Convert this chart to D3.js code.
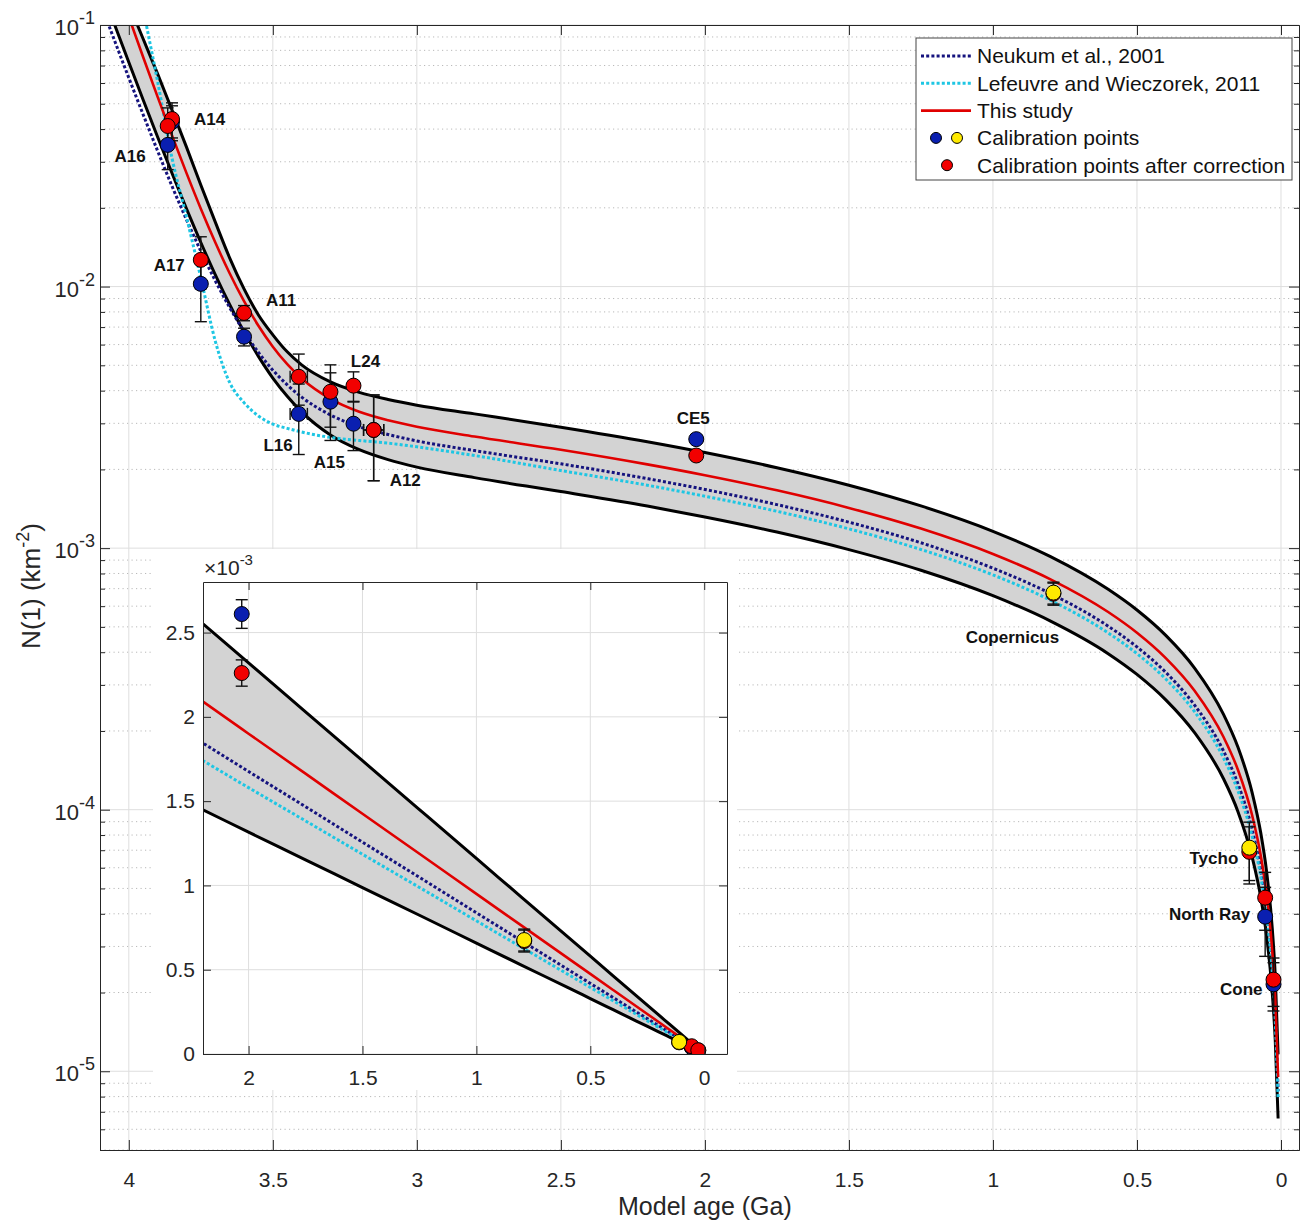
<!DOCTYPE html>
<html>
<head>
<meta charset="utf-8">
<script src="https://cdn.jsdelivr.net/npm/d3@7"></script>
<style>
  body { margin: 0; background: #fff; }
  svg { font-family: "Liberation Sans", Arial, sans-serif; }
</style>
</head>
<body>
<div class="canvas"></div>
<script>
// ---- values ----
// model curves, sampled at these ages (Ga)
const curveAges = [4.1, 4.05, 4.0, 3.95, 3.9, 3.85, 3.8, 3.75, 3.7, 3.65, 3.6, 3.55, 3.5, 3.45, 3.4, 3.3, 3.2, 3.1, 3.0, 2.8, 2.5, 2.2, 2.0, 1.75, 1.5, 1.25, 1.0, 0.8, 0.6, 0.5, 0.4, 0.3, 0.2, 0.15, 0.1, 0.07, 0.05, 0.03, 0.02, 0.01];
const neukum = [0.1223, 0.0875, 0.0628, 0.0454, 0.0330, 0.0242, 0.01805, 0.01366, 0.01054, 0.00832, 0.00674, 0.00560, 0.00479, 0.00421, 0.00378, 0.00323, 0.00291, 0.00272, 0.00257, 0.00236, 0.00210, 0.001844, 0.001676, 0.001467, 0.001257, 0.001048, 0.000838, 0.00067, 0.000503, 0.000419, 0.000335, 0.000251, 0.000168, 0.000126, 0.0000838, 0.0000587, 0.0000419, 0.0000251, 0.0000168, 0.0000084];
const lefeuvre = [0.82, 0.42, 0.221, 0.115, 0.0608, 0.031, 0.0185, 0.0108, 0.0062, 0.0043, 0.0036, 0.0032, 0.00298, 0.00287, 0.00278, 0.00265, 0.00258, 0.00252, 0.00244, 0.00226, 0.00198, 0.00174, 0.00158, 0.001383, 0.001185, 0.000988, 0.00079, 0.000632, 0.000474, 0.000395, 0.000316, 0.000237, 0.000158, 0.0001185, 0.000079, 0.0000553, 0.0000395, 0.0000237, 0.0000158, 0.0000079];
const thisStudy = [0.221, 0.154, 0.1074, 0.0753, 0.0531, 0.0378, 0.0272, 0.01984, 0.01477, 0.01124, 0.00879, 0.00708, 0.00589, 0.00505, 0.00445, 0.00372, 0.00332, 0.00308, 0.00291, 0.00267, 0.002377, 0.00209, 0.00190, 0.001663, 0.001425, 0.001188, 0.00095, 0.00076, 0.00057, 0.000475, 0.00038, 0.000285, 0.00019, 0.0001425, 0.000095, 0.0000665, 0.0000475, 0.0000285, 0.000019, 0.0000095];
const upperBound = [0.221, 0.162, 0.120, 0.0884, 0.0650, 0.0473, 0.0342, 0.02446, 0.01767, 0.01288, 0.0098, 0.00779, 0.00654, 0.00563, 0.00502, 0.00432, 0.00394, 0.0037, 0.00352, 0.00326, 0.0029, 0.002552, 0.00232, 0.00203, 0.00174, 0.00145, 0.00116, 0.000928, 0.000696, 0.00058, 0.000464, 0.000348, 0.000232, 0.000174, 0.000116, 0.0000812, 0.000058, 0.0000348, 0.0000232, 0.0000116];
const lowerBound = [0.1414, 0.1008, 0.0720, 0.0517, 0.0373, 0.0271, 0.01985, 0.01474, 0.01111, 0.00854, 0.00671, 0.00541, 0.00447, 0.00381, 0.00332, 0.00271, 0.00238, 0.00218, 0.00204, 0.00186, 0.001645, 0.001448, 0.001316, 0.001152, 0.000987, 0.000823, 0.000658, 0.000526, 0.000395, 0.000329, 0.000263, 0.000197, 0.0001316, 0.0000987, 0.0000658, 0.0000461, 0.0000329, 0.0000197, 0.0000132, 0.0000066];

// calibration sites
const sites = ['A14', 'A16', 'A17', 'A11', 'L16', 'A15', 'L24', 'A12', 'CE5', 'Copernicus', 'Tycho', 'North Ray', 'Cone'];
const siteAges = [3.85, 3.865, 3.75, 3.60, 3.41, 3.30, 3.22, 3.15, 2.03, 0.79, 0.11, 0.055, 0.026];
const siteAgeErr = [0, 0, 0, 0, 0.03, 0, 0, 0.035, 0, 0, 0, 0, 0];
const n1Before = [0.0426, 0.0348, 0.01024, 0.00643, 0.00326, 0.00363, 0.00299, 0.00283, 0.00261, 0.000676, 0.0000716, 0.000039, 0.0000215];
const n1BeforeErr = [0.0065, 0.0068, 0.0029, 0.0005, 0.00098, 0.00105, 0.00063, 0.00102, 0.000085, 0.000065, 0.000018, 0.0000115, 0.0000045];
const n1After = [0.0437, 0.0411, 0.01265, 0.00793, 0.00452, 0.00396, 0.00418, 0.00283, 0.00226, 0.00067, 0.000069, 0.0000461, 0.0000224];
const n1AfterErr = [0.0067, 0.0071, 0.00285, 0.00053, 0.001, 0.00106, 0.00054, 0.00102, 0.000078, 0.000065, 0.000017, 0.0000115, 0.0000047];
const yellowSites = ['Copernicus', 'Tycho'];

// tick labels
const xTicks = [4, 3.5, 3, 2.5, 2, 1.5, 1, 0.5, 0];
const yDecades = [1e-5, 1e-4, 1e-3, 1e-2, 1e-1];
const yDecadeLabels = ['-5', '-4', '-3', '-2', '-1'];
const insetXTicks = [2, 1.5, 1, 0.5, 0];
const insetYTicks = [0, 0.0005, 0.001, 0.0015, 0.002, 0.0025];
const insetYLabels = ['0', '0.5', '1', '1.5', '2', '2.5'];

const legendItems = ['Neukum et al., 2001', 'Lefeuvre and Wieczorek, 2011', 'This study', 'Calibration points', 'Calibration points after correction'];

// where each site name sits relative to its marker (px)
const labelPlacement = {
  'A14': [22, 0, 'start', 'after'], 'A16': [-22, 11, 'end', 'before'], 'A17': [-16, 5, 'end', 'after'],
  'A11': [22, -13, 'start', 'after'], 'L16': [-6, 31, 'end', 'before'], 'A15': [-1, 60, 'middle', 'before'],
  'L24': [12, -25, 'middle', 'after'], 'A12': [16, 50, 'start', 'after'], 'CE5': [-3, -21, 'middle', 'before'],
  'Copernicus': [-41, 44, 'middle', 'before'], 'Tycho': [-11, 10, 'end', 'before'],
  'North Ray': [-15, -3, 'end', 'before'], 'Cone': [-11, 5, 'end', 'before']
};

// ---- styles ----
const colNeukum = '#15137e';
const colLefeuvre = '#1ec6e3';
const colRed = '#e00000';
const colBlue = '#0a1fb0';
const colYellow = '#ffea00';
const colMarkerRed = '#f20000';
const colAxis = '#262626';

const width = 1300, height = 1222;
const margin = { top: 25, right: 1, bottom: 72, left: 100 };
const graphWidth = width - margin.left - margin.right;
const graphHeight = height - margin.top - margin.bottom;

const svg = d3.select('.canvas').append('svg')
  .attr('width', width)
  .attr('height', height);

svg.append('rect').attr('width', width).attr('height', height).attr('fill', '#fff');

const graph = svg.append('g')
  .attr('transform', `translate(${margin.left}, ${margin.top})`);

// scales
const x = d3.scaleLinear().domain([4.1, -0.0625]).range([0, graphWidth]);
const y = d3.scaleLog().domain([5e-6, 0.1]).range([graphHeight, 0]);

const curveRows = curveAges.map((a, i) => ({
  age: a, neukum: neukum[i], lefeuvre: lefeuvre[i], study: thisStudy[i], upper: upperBound[i], lower: lowerBound[i]
}));
const siteRows = sites.map((s, i) => ({
  name: s, age: siteAges[i], ageErr: siteAgeErr[i],
  before: n1Before[i], beforeErr: n1BeforeErr[i], after: n1After[i], afterErr: n1AfterErr[i],
  yellow: yellowSites.includes(s)
}));

// grid
const minorTicks = y.ticks().filter(v => !yDecades.some(d => Math.abs(d - v) / d < 1e-6));
graph.append('g').selectAll('line')
  .data(minorTicks).enter().append('line')
    .attr('x1', 0).attr('x2', graphWidth)
    .attr('y1', d => y(d)).attr('y2', d => y(d))
    .attr('stroke', '#b9b9b9').attr('stroke-width', 1).attr('stroke-dasharray', '1.2,3.3');
graph.append('g').selectAll('line')
  .data(yDecades).enter().append('line')
    .attr('x1', 0).attr('x2', graphWidth)
    .attr('y1', d => y(d)).attr('y2', d => y(d))
    .attr('stroke', '#dedede');
graph.append('g').selectAll('line')
  .data(xTicks).enter().append('line')
    .attr('x1', d => x(d)).attr('x2', d => x(d))
    .attr('y1', 0).attr('y2', graphHeight)
    .attr('stroke', '#dedede');

// clip
svg.append('clipPath').attr('id', 'mainClip')
  .append('rect').attr('width', graphWidth).attr('height', graphHeight);

const plot = graph.append('g').attr('clip-path', 'url(#mainClip)');

function drawCurves(g, xs, ys) {
  const band = d3.area()
    .x(d => xs(d.age)).y0(d => ys(d.lower)).y1(d => ys(d.upper))
    .curve(d3.curveMonotoneX);
  const lineOf = key => d3.line().x(d => xs(d.age)).y(d => ys(d[key])).curve(d3.curveMonotoneX);

  g.append('path').datum(curveRows).attr('d', band).attr('fill', '#d3d3d3');
  g.append('path').datum(curveRows).attr('d', lineOf('lower'))
    .attr('fill', 'none').attr('stroke', '#000').attr('stroke-width', 3);
  g.append('path').datum(curveRows).attr('d', lineOf('upper'))
    .attr('fill', 'none').attr('stroke', '#000').attr('stroke-width', 3);
  g.append('path').datum(curveRows).attr('d', lineOf('neukum'))
    .attr('fill', 'none').attr('stroke', colNeukum).attr('stroke-width', 3).attr('stroke-dasharray', '3,2.2');
  g.append('path').datum(curveRows).attr('d', lineOf('lefeuvre'))
    .attr('fill', 'none').attr('stroke', colLefeuvre).attr('stroke-width', 3).attr('stroke-dasharray', '3,2.2');
  g.append('path').datum(curveRows).attr('d', lineOf('study'))
    .attr('fill', 'none').attr('stroke', colRed).attr('stroke-width', 2.6);
}

function drawPoints(g, xs, ys, r) {
  const cap = 6;
  const bars = g.append('g').attr('stroke', '#111').attr('stroke-width', 1.4);
  const addBar = (d, val, err) => {
    const cx = xs(d.age);
    bars.append('line').attr('x1', cx).attr('x2', cx).attr('y1', ys(val - err)).attr('y2', ys(val + err));
    bars.append('line').attr('x1', cx - cap).attr('x2', cx + cap).attr('y1', ys(val - err)).attr('y2', ys(val - err));
    bars.append('line').attr('x1', cx - cap).attr('x2', cx + cap).attr('y1', ys(val + err)).attr('y2', ys(val + err));
    if (d.ageErr > 0) {
      const cy = ys(val);
      bars.append('line').attr('x1', xs(d.age + d.ageErr)).attr('x2', xs(d.age - d.ageErr)).attr('y1', cy).attr('y2', cy);
      [d.age + d.ageErr, d.age - d.ageErr].forEach(a => {
        bars.append('line').attr('x1', xs(a)).attr('x2', xs(a)).attr('y1', cy - cap).attr('y2', cy + cap);
      });
    }
  };
  siteRows.forEach(d => { addBar(d, d.before, d.beforeErr); addBar(d, d.after, d.afterErr); });

  // original points (blue), then corrected (red), then yellow ones on top
  g.append('g').selectAll('circle')
    .data(siteRows.filter(d => !d.yellow)).enter().append('circle')
      .attr('cx', d => xs(d.age)).attr('cy', d => ys(d.before)).attr('r', r)
      .attr('fill', colBlue).attr('stroke', '#000').attr('stroke-width', 1);
  g.append('g').selectAll('circle')
    .data(siteRows).enter().append('circle')
      .attr('cx', d => xs(d.age)).attr('cy', d => ys(d.after)).attr('r', r)
      .attr('fill', colMarkerRed).attr('stroke', '#000').attr('stroke-width', 1);
  g.append('g').selectAll('circle')
    .data(siteRows.filter(d => d.yellow)).enter().append('circle')
      .attr('cx', d => xs(d.age)).attr('cy', d => ys(d.before)).attr('r', r)
      .attr('fill', colYellow).attr('stroke', '#000').attr('stroke-width', 1);
}

drawCurves(plot, x, y);
drawPoints(plot, x, y, 7.5);

// site labels
graph.append('g').selectAll('text')
  .data(siteRows).enter().append('text')
    .attr('x', d => x(d.age) + labelPlacement[d.name][0])
    .attr('y', d => y(labelPlacement[d.name][3] === 'after' ? d.after : d.before) + labelPlacement[d.name][1])
    .attr('dy', '0.36em')
    .attr('text-anchor', d => labelPlacement[d.name][2])
    .attr('font-size', 17).attr('font-weight', 'bold').attr('fill', '#111')
    .text(d => d.name);

// axes
function styleAxis(g) {
  g.selectAll('path.domain').attr('stroke', colAxis);
  g.selectAll('.tick line').attr('stroke', colAxis);
  g.selectAll('text').attr('fill', colAxis).attr('font-size', 21)
    .attr('font-family', '"Liberation Sans", Arial, sans-serif');
}

const xAxisGroup = graph.append('g').attr('transform', `translate(0, ${graphHeight})`)
  .call(d3.axisBottom(x).tickValues(xTicks).tickSize(-10).tickSizeOuter(0).tickPadding(22).tickFormat(d => d));
styleAxis(xAxisGroup);
const xTopGroup = graph.append('g')
  .call(d3.axisTop(x).tickValues(xTicks).tickSize(-10).tickSizeOuter(0).tickFormat(''));
styleAxis(xTopGroup);

const yAxisGroup = graph.append('g')
  .call(d3.axisLeft(y).tickValues(yDecades).tickSize(-10).tickSizeOuter(0).tickFormat(''));
styleAxis(yAxisGroup);
graph.append('g')
  .call(d3.axisLeft(y).tickValues(minorTicks).tickSize(-5).tickSizeOuter(0).tickFormat(''))
  .call(styleAxis);
const yRightGroup = graph.append('g').attr('transform', `translate(${graphWidth}, 0)`)
  .call(d3.axisRight(y).tickValues(yDecades).tickSize(-10).tickSizeOuter(0).tickFormat(''));
styleAxis(yRightGroup);
graph.append('g').attr('transform', `translate(${graphWidth}, 0)`)
  .call(d3.axisRight(y).tickValues(minorTicks).tickSize(-5).tickSizeOuter(0).tickFormat(''))
  .call(styleAxis);

// decade labels with superscripts
const decadeText = graph.append('g').selectAll('text')
  .data(yDecades).enter().append('text')
    .attr('x', -5).attr('y', d => y(d) + 10)
    .attr('text-anchor', 'end').attr('fill', colAxis).attr('font-size', 22);
decadeText.append('tspan').text('10');
decadeText.append('tspan').attr('dy', -11).attr('font-size', 18).text((d, i) => yDecadeLabels[i]);

// axis titles
svg.append('text')
  .attr('x', margin.left + x(2.0)).attr('y', 1215)
  .attr('text-anchor', 'middle').attr('font-size', 25).attr('fill', colAxis)
  .text('Model age (Ga)');
const yTitle = svg.append('text')
  .attr('transform', 'translate(40, 586) rotate(-90)')
  .attr('text-anchor', 'middle').attr('font-size', 26).attr('fill', colAxis);
yTitle.append('tspan').text('N(1) (km');
yTitle.append('tspan').attr('dy', -11).attr('font-size', 18).text('-2');
yTitle.append('tspan').attr('dy', 11).text(')');

// ---- inset ----
const inset = { left: 203, top: 582, width: 524, height: 472 };
svg.append('rect')
  .attr('x', 153).attr('y', 549).attr('width', 584).attr('height', 541)
  .attr('fill', '#fff');

const ix = d3.scaleLinear().domain([2.2, -0.1]).range([0, inset.width]);
const iy = d3.scaleLinear().domain([0, 0.0028]).range([inset.height, 0]);

const insetGraph = svg.append('g').attr('transform', `translate(${inset.left}, ${inset.top})`);
insetGraph.append('g').selectAll('line')
  .data(insetXTicks).enter().append('line')
    .attr('x1', d => ix(d)).attr('x2', d => ix(d)).attr('y1', 0).attr('y2', inset.height)
    .attr('stroke', '#dedede');
insetGraph.append('g').selectAll('line')
  .data(insetYTicks).enter().append('line')
    .attr('x1', 0).attr('x2', inset.width).attr('y1', d => iy(d)).attr('y2', d => iy(d))
    .attr('stroke', '#dedede');

svg.append('clipPath').attr('id', 'insetClip')
  .append('rect').attr('width', inset.width).attr('height', inset.height);
const insetPlot = insetGraph.append('g').attr('clip-path', 'url(#insetClip)');
drawCurves(insetPlot, ix, iy);
drawPoints(insetPlot, ix, iy, 7.5);

insetGraph.append('g').attr('transform', `translate(0, ${inset.height})`)
  .call(d3.axisBottom(ix).tickValues(insetXTicks).tickSize(-8).tickSizeOuter(0).tickPadding(16).tickFormat(d => d))
  .call(styleAxis);
insetGraph.append('g')
  .call(d3.axisTop(ix).tickValues(insetXTicks).tickSize(-8).tickSizeOuter(0).tickFormat(''))
  .call(styleAxis);
insetGraph.append('g')
  .call(d3.axisLeft(iy).tickValues(insetYTicks).tickSize(-8).tickSizeOuter(0).tickPadding(8).tickFormat((d, i) => insetYLabels[i]))
  .call(styleAxis);
insetGraph.append('g').attr('transform', `translate(${inset.width}, 0)`)
  .call(d3.axisRight(iy).tickValues(insetYTicks).tickSize(-8).tickSizeOuter(0).tickFormat(''))
  .call(styleAxis);

const expText = insetGraph.append('text').attr('x', 1).attr('y', -7)
  .attr('font-size', 21).attr('fill', colAxis);
expText.append('tspan').text('\u00d710');
expText.append('tspan').attr('dy', -10).attr('font-size', 15).text('-3');

// ---- legend ----
const legend = svg.append('g').attr('transform', 'translate(916, 38)');
legend.append('rect').attr('width', 376).attr('height', 142)
  .attr('fill', '#fff').attr('stroke', '#444').attr('stroke-width', 1);
const rowY = i => 18 + i * 27.3;
legend.append('line').attr('x1', 5).attr('x2', 55).attr('y1', rowY(0)).attr('y2', rowY(0))
  .attr('stroke', colNeukum).attr('stroke-width', 3).attr('stroke-dasharray', '3,2.2');
legend.append('line').attr('x1', 5).attr('x2', 55).attr('y1', rowY(1)).attr('y2', rowY(1))
  .attr('stroke', colLefeuvre).attr('stroke-width', 3).attr('stroke-dasharray', '3,2.2');
legend.append('line').attr('x1', 5).attr('x2', 55).attr('y1', rowY(2)).attr('y2', rowY(2))
  .attr('stroke', colRed).attr('stroke-width', 2.6);
legend.append('circle').attr('cx', 20).attr('cy', rowY(3)).attr('r', 5.5)
  .attr('fill', colBlue).attr('stroke', '#000');
legend.append('circle').attr('cx', 41).attr('cy', rowY(3)).attr('r', 5.5)
  .attr('fill', colYellow).attr('stroke', '#000');
legend.append('circle').attr('cx', 31).attr('cy', rowY(4)).attr('r', 5.5)
  .attr('fill', colMarkerRed).attr('stroke', '#000');
legend.selectAll('text.item')
  .data(legendItems).enter().append('text')
    .attr('class', 'item')
    .attr('x', 61).attr('y', (d, i) => rowY(i))
    .attr('dy', '0.35em').attr('font-size', 21).attr('fill', '#111')
    .text(d => d);
</script>
</body>
</html>
